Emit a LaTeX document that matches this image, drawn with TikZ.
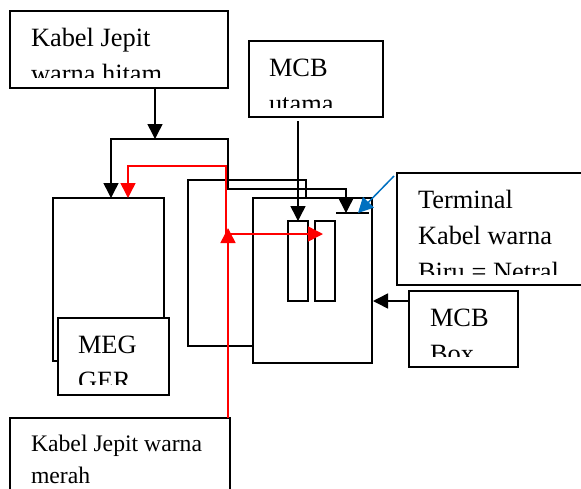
\documentclass[tikz,border=0pt]{standalone}
\usepackage{fontspec}
\setmainfont{Liberation Serif}
\usetikzlibrary{arrows.meta}
\usetikzlibrary{calc}

\tikzset{
  >={Triangle[length=15pt,width=15pt]},
  box/.style={draw=black, fill=white, line width=1.5pt, inner sep=0pt, outer sep=0pt},
  wire/.style={draw=black, line width=1.5pt},
  redwire/.style={draw=red, line width=1.5pt},
  lab/.style={anchor=base west, inner sep=0pt, outer sep=0pt, font=\fontsize{26.4}{30}\selectfont},
  smalllab/.style={anchor=base west, inner sep=0pt, outer sep=0pt, font=\fontsize{23.7}{28}\selectfont}
}

\begin{document}
\begin{tikzpicture}[x=1pt, y=-1pt]

\clip (0,0) rectangle (581,488);

% First, define the two boxes at the back, and the MCB box in front of them
\draw (247,263) node[box, minimum width=118pt, minimum height=166pt] (panel) {};
\draw (312.5,280.5) node[box, minimum width=119pt, minimum height=165pt] (mcbbox) {};
\draw (298,261) node[box, minimum width=20pt, minimum height=80pt] (mcbleft) {};
\draw (325,261) node[box, minimum width=20pt, minimum height=80pt] (mcbright) {};
\draw (108.5,279.5) node[box, minimum width=111pt, minimum height=163pt] (meter) {};

% Now the boxes holding text
\draw (119,49.5) node[box, minimum width=218pt, minimum height=77pt] (hitam) {};
\draw (316,79) node[box, minimum width=134pt, minimum height=76pt] (utama) {};
\draw (113.5,356.5) node[box, minimum width=111pt, minimum height=77pt] (megger) {};
\draw (496,229) node[box, minimum width=198pt, minimum height=112pt] (terminal) {};
\draw (463.5,329) node[box, minimum width=109pt, minimum height=76pt] (mcbnote) {};
\draw (120,458) node[box, minimum width=220pt, minimum height=80pt] (merah) {};

% The last line of each text is cut by the box, so clip it
\begin{scope}
\clip (12,13) rectangle (226,77);
\draw (31,46) node[lab] (hitamA) {Kabel Jepit};
\draw (31,82) node[lab] (hitamB) {warna hitam};
\end{scope}
\begin{scope}
\clip (251,43) rectangle (381,107);
\draw (269,76) node[lab] (utamaA) {MCB};
\draw (269,112) node[lab] (utamaB) {utama};
\end{scope}
\begin{scope}
\clip (60,320) rectangle (167,384);
\draw (78,353) node[lab] (meggerA) {MEG};
\draw (78,389) node[lab] (meggerB) {GER};
\end{scope}
\begin{scope}
\clip (399,175) rectangle (581,274);
\draw (418,208) node[lab] (terminalA) {Terminal};
\draw (418,244) node[lab] (terminalB) {Kabel warna};
\draw (418,280) node[lab] (terminalC) {Biru = Netral};
\end{scope}
\begin{scope}
\clip (411,293) rectangle (516,356);
\draw (430,326) node[lab] (mcbnoteA) {MCB};
\draw (430,362) node[lab] (mcbnoteB) {Box};
\end{scope}
\draw (31,451) node[smalllab] (merahA) {Kabel Jepit warna};
\draw (31,483) node[smalllab] (merahB) {merah};

% Named points where the wires turn
\coordinate (hitamsplit) at (155,139);
\coordinate (leftturn) at (111,139);
\coordinate (rightturn) at (228,139);
\coordinate (lowturn) at (228,189);
\coordinate (dropturn) at (346,189);
\coordinate (termbar) at (346,213);
\coordinate (termbarL) at (336,213);
\coordinate (termbarR) at (369,213);
\coordinate (utamadrop) at (298,221);
\coordinate (noteout) at (373,301);
\coordinate (redturn) at (226,166);
\coordinate (redleft) at (128,166);
\coordinate (redjoin) at (226,234);
\coordinate (redtip) at (323,234);
\coordinate (redup) at (228,228);
\coordinate (blueend) at (394,176);
\coordinate (bluetip) at (358,213);

% Black wires
\draw[wire,->] (hitam.south -| hitamsplit) -- (hitamsplit);
\draw[wire,<->] (meter.north -| leftturn) -- (leftturn) -- (rightturn) -- (lowturn) -- (dropturn) -- (termbar);
\draw[wire] (termbarL) -- (termbarR);
\draw[wire,->,shorten <=4pt] (utama.south -| utamadrop) -- (utamadrop);
\draw[wire,->] (mcbnote.west |- noteout) -- (noteout);

% Red wires
\draw[redwire,->] (redjoin) -- (redturn) -- (redleft) -- (meter.north -| redleft);
\draw[redwire,->] (merah.north -| redup) -- (redup);
\draw[redwire,->] (redup |- redjoin) -- (redtip);

% Blue pointer to the terminal
\draw[draw={rgb,255:red,0;green,112;blue,192}, line width=1.5pt, ->] (blueend) -- (bluetip);
\end{tikzpicture}
\end{document}
